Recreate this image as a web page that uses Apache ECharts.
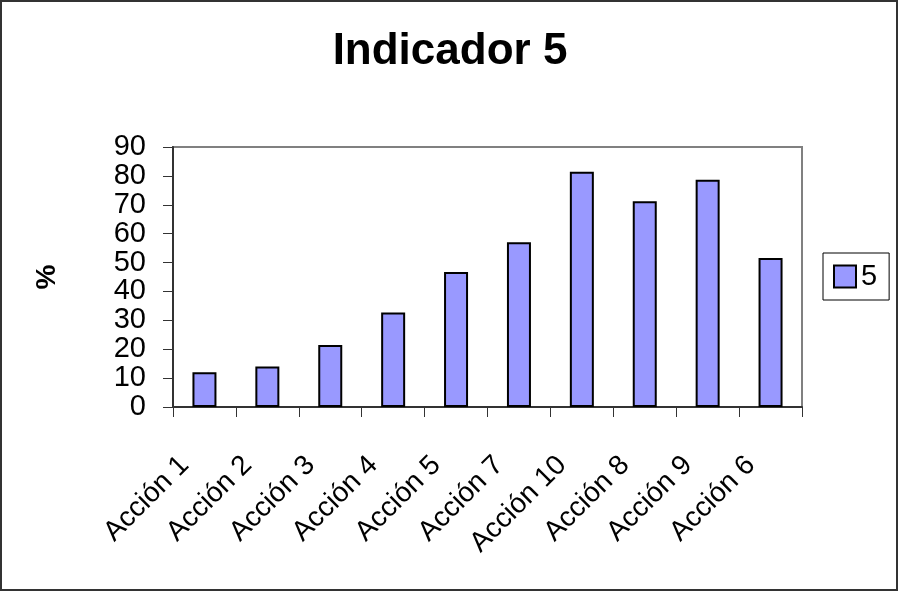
<!DOCTYPE html>
<html>
<head>
<meta charset="utf-8">
<title>Indicador 5</title>
<script src="https://cdn.jsdelivr.net/npm/echarts@6/dist/echarts.min.js"></script>
<style>
  html, body { margin: 0; padding: 0; background: #ffffff; }
  #chart { width: 900px; height: 593px; }
</style>
</head>
<body>
<div id="chart"></div>
<script>
// Categories in plotted order
const categories = ['Acción 1', 'Acción 2', 'Acción 3', 'Acción 4', 'Acción 5',
                    'Acción 7', 'Acción 10', 'Acción 8', 'Acción 9', 'Acción 6'];
// Percentage values for series "5"
const values5 = [12, 14, 21.5, 32.7, 46.7, 57, 81.4, 71.2, 78.7, 51.6];
// Y axis range
const yMin = 0;
const yMax = 90;
const yStep = 10;

const FONT = '"Liberation Sans", Arial, sans-serif';

const chart = echarts.init(document.getElementById('chart'), null, { renderer: 'canvas' });

chart.setOption({
  animation: false,
  backgroundColor: '#ffffff',
  title: {
    text: 'Indicador 5',
    left: 'center',
    top: 25,
    textStyle: { fontFamily: FONT, fontSize: 44, fontWeight: 'bold', color: '#000000' }
  },
  graphic: [{
    type: 'rect',
    shape: { x: 1, y: 1, width: 896, height: 589 },
    style: { fill: 'none', stroke: '#333333', lineWidth: 2 },
    silent: true
  }],
  legend: {
    orient: 'vertical',
    left: 823,
    top: 253,
    padding: [9, 12, 9, 10],
    backgroundColor: '#ffffff',
    borderColor: '#000000',
    borderWidth: 1,
    itemWidth: 22,
    itemHeight: 22,
    icon: 'rect',
    textStyle: { fontFamily: FONT, fontSize: 29, color: '#000000' },
    data: ['5']
  },
  grid: {
    left: 173,
    right: 98,
    top: 147,
    bottom: 186,
    show: true,
    borderColor: '#808080',
    borderWidth: 2,
    containLabel: false
  },
  xAxis: {
    type: 'category',
    data: categories,
    boundaryGap: true,
    axisLine: { show: true, lineStyle: { color: '#333333', width: 2 } },
    axisTick: { show: true, length: 10, lineStyle: { color: '#333333', width: 1 } },
    axisLabel: {
      interval: 0,
      rotate: 45,
      margin: 34,
      fontFamily: FONT,
      fontSize: 28,
      color: '#000000',
      // pull each label back along its slant so its end sits left of the tick centre
      formatter: function (v) { return '{t|' + v + '}'; },
      rich: {
        t: { fontFamily: FONT, fontSize: 28, color: '#000000', padding: [0, 28, 0, 0] }
      }
    },
    splitLine: { show: false }
  },
  yAxis: {
    type: 'value',
    min: yMin,
    max: yMax,
    interval: yStep,
    name: '%',
    nameLocation: 'middle',
    nameGap: 112,
    nameRotate: 90,
    nameTextStyle: { fontFamily: FONT, fontSize: 28, fontWeight: 'bold', color: '#000000' },
    axisLine: { show: true, lineStyle: { color: '#333333', width: 2 } },
    axisTick: { show: true, length: 10, lineStyle: { color: '#333333', width: 1 } },
    axisLabel: { margin: 27, fontFamily: FONT, fontSize: 29, color: '#000000' },
    splitLine: { show: false }
  },
  series: [{
    name: '5',
    type: 'bar',
    data: values5,
    barWidth: 24,
    itemStyle: { color: '#9999FF', borderColor: '#000000', borderWidth: 2 }
  }]
});
</script>
</body>
</html>
